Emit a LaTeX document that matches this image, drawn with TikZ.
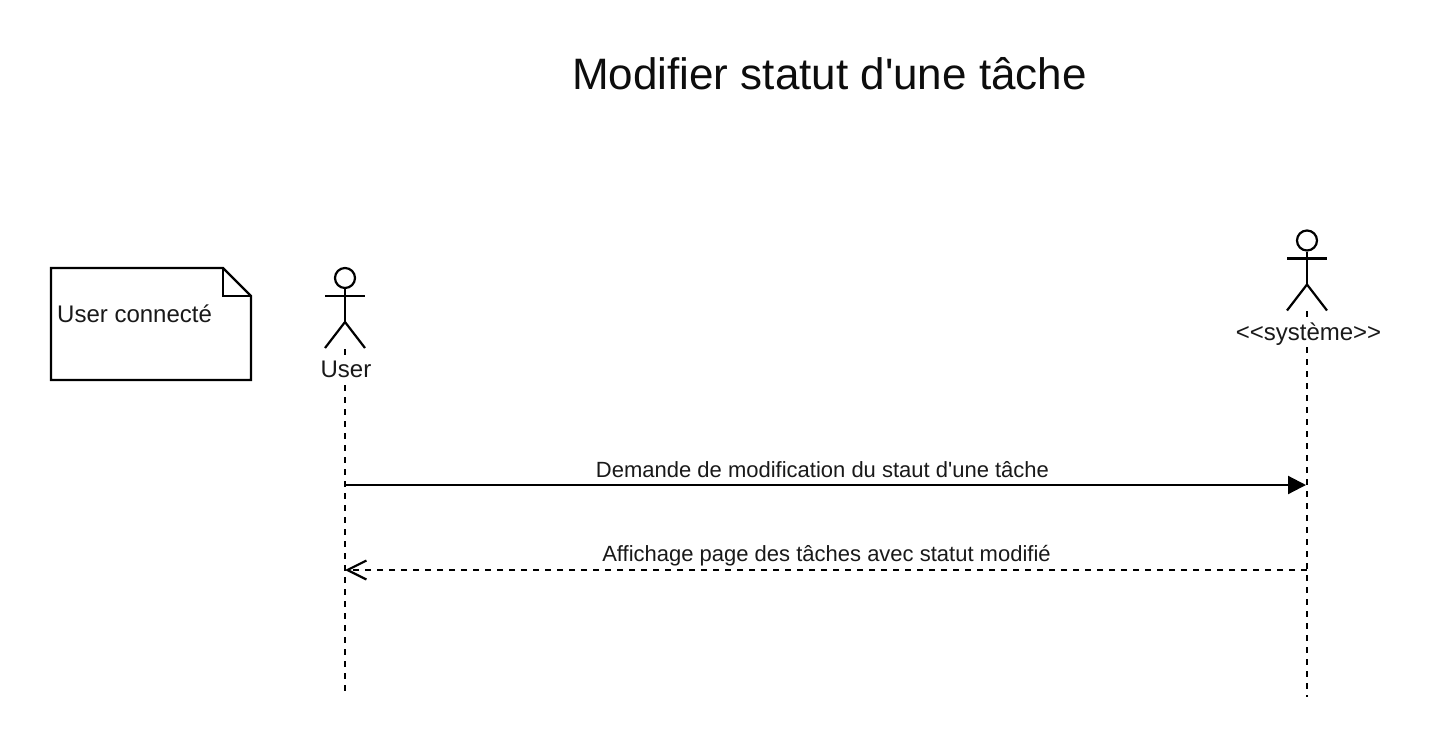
\documentclass[tikz,border=0pt]{standalone}
\usepackage{fontspec}
\newfontfamily\plainsans{Liberation Sans}
\usetikzlibrary{arrows.meta}
\tikzset{
  ln/.style={line width=2.2pt,black},
  life/.style={ln,dash pattern=on 6pt off 6pt},
  head/.style={circle,draw,line width=2.2pt,minimum size=20pt,inner sep=0pt,fill=white},
  lbl/.style={inner sep=0pt,text=black!90,font=\plainsans\fontsize{24}{28}\selectfont},
  actorlbl/.style={lbl,fill=white,inner ysep=1pt},
  msg/.style={inner sep=0pt,text=black!90,font=\plainsans\fontsize{22}{26}\selectfont},
  ttl/.style={inner sep=0pt,text=black!95,font=\plainsans\fontsize{44}{50}\selectfont},
}
\newcommand{\stick}[3]{% name, x, head centre y
  \node[head] (#1head) at (#2,#3) {};
  \coordinate (#1arml) at (#2-20,#3+18);
  \coordinate (#1armr) at (#2+20,#3+18);
  \coordinate (#1hip) at (#2,#3+44);
  \coordinate (#1legl) at (#2-20,#3+70);
  \coordinate (#1legr) at (#2+20,#3+70);
  \draw[ln] (#1head) -- (#1hip);
  \draw[ln] (#1arml) -- (#1armr);
  \draw[ln] (#1legl) -- (#1hip) -- (#1legr);
}
\begin{document}
\begin{tikzpicture}[x=1pt,y=-1pt]
\useasboundingbox (0,0) rectangle (1430,748);
\fill[white] (0,0) rectangle (1430,748);

\node[ttl] (title) at (829.5,74) {Modifier statut d'une tâche};

% note
\draw[ln,line join=miter,fill=white] (51,268) -- (223,268) -- (251,296) -- (251,380) -- (51,380) -- cycle;
\draw[ln] (223,268) -- (223,296) -- (251,296);
\node[lbl,anchor=west] (note) at (57,313.5) {User connecté};

% lifelines
\coordinate (ustart) at (345,349);
\coordinate (uend) at (345,692);
\coordinate (sstart) at (1307,311);
\coordinate (send) at (1307,697);
\draw[life] (ustart) -- (uend);
\draw[life] (sstart) -- (send);

% actors
\stick{u}{345}{278}
\stick{s}{1307}{240.5}
\node[actorlbl] (ulabel) at (346,369.5) {User};
\node[actorlbl] (slabel) at (1308.5,334.5) {<<système>>};

% messages
\coordinate (m1a) at (345,485);
\coordinate (m1b) at (1306,485);
\coordinate (m2a) at (1307,570);
\coordinate (m2b) at (345,570);
\draw[ln,-{Triangle[length=18pt,width=18pt]}] (m1a) -- (m1b);
\draw[life,-{Straight Barb[length=19pt,width=19pt,line width=2.2pt]}] (m2a) -- (m2b);
\node[msg] (m1) at (822.5,469.5) {Demande de modification du staut d'une tâche};
\node[msg] (m2) at (826.5,555.5) {Affichage page des tâches avec statut modifié};
\end{tikzpicture}
\end{document}
